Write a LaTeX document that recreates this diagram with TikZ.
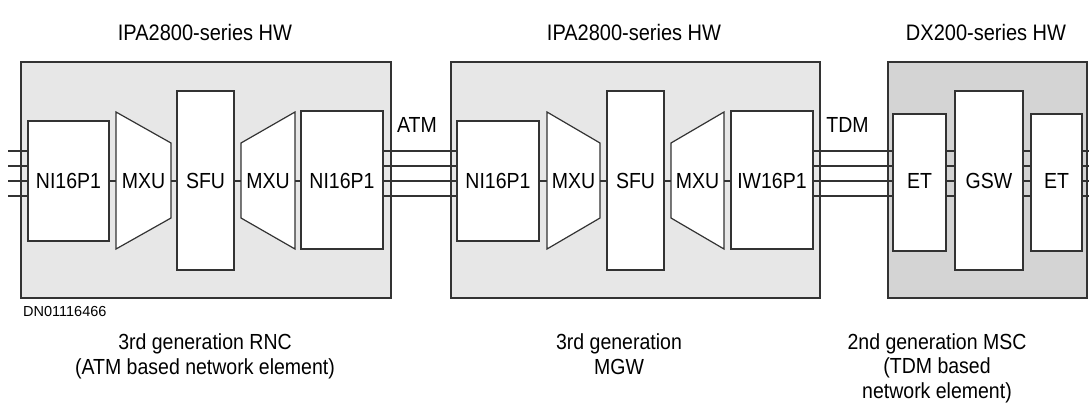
\documentclass[tikz,border=0pt]{standalone}
\usepackage{fontspec}
\setmainfont{Liberation Sans}
\usepackage{graphicx}
\definecolor{grayA}{HTML}{E7E7E7}
\definecolor{grayC}{HTML}{D4D4D4}
\definecolor{edge}{HTML}{333333}
\newcommand{\tall}[1]{\scalebox{1}[1.12]{#1}}
\begin{document}
\begin{tikzpicture}[x=1pt,y=-1pt,
  outer/.style={draw=edge,line width=1.3pt,fill=#1,inner sep=0pt},
  blk/.style={draw=edge,line width=1.2pt,fill=white,inner sep=0pt},
  lbl/.style={inner sep=0pt,font=\fontsize{19.5}{22}\selectfont},
  ttl/.style={inner sep=0pt,font=\fontsize{20}{22}\selectfont},
  small/.style={inner sep=0pt,font=\fontsize{14.5}{17}\selectfont},
  wire/.style={draw=edge,line width=1.3pt},
]
\useasboundingbox (0,0) rectangle (1089,405);

% outer boxes
\node[outer=grayA, minimum width=370pt, minimum height=236pt] (boxA) at (206,180) {};
\node[outer=grayA, minimum width=369pt, minimum height=236pt] (boxB) at (635.5,180) {};
\node[outer=grayC, minimum width=199pt, minimum height=236pt] (boxC) at (987.5,180) {};

% titles
\node[ttl] (tA) at (205,32) {\tall{IPA2800-series HW}};
\node[ttl] (tB) at (634,32) {\tall{IPA2800-series HW}};
\node[ttl] (tC) at (986,32) {\tall{DX200-series HW}};

% ---- element A
\node[blk, minimum width=81pt, minimum height=120pt] (ani1) at (68.5,181) {};
\node[lbl] at (ani1) {\tall{NI16P1}};
\draw[blk] (116,112) -- (171,143) -- (171,218) -- (116,249) -- cycle;
\node[lbl] (am1) at (143.5,181) {\tall{MXU}};
\coordinate (am1w) at (116,181); \coordinate (am1e) at (171,181);
\node[blk, minimum width=57pt, minimum height=179pt] (asfu) at (205.5,180.5) {};
\node[lbl] at (205.5,181) {\tall{SFU}};
\draw[blk] (241,143) -- (295,112) -- (295,249) -- (241,218) -- cycle;
\node[lbl] (am2) at (268,181) {\tall{MXU}};
\coordinate (am2w) at (241,181); \coordinate (am2e) at (295,181);
\node[blk, minimum width=82pt, minimum height=138pt] (ani2) at (342,180) {};
\node[lbl] at (342,181) {\tall{NI16P1}};

% ---- element B
\node[blk, minimum width=82pt, minimum height=120pt] (bni) at (498,181) {};
\node[lbl] at (bni) {\tall{NI16P1}};
\draw[blk] (547,112) -- (600,143) -- (600,218) -- (547,249) -- cycle;
\node[lbl] (bm1) at (573.5,181) {\tall{MXU}};
\coordinate (bm1w) at (547,181); \coordinate (bm1e) at (600,181);
\node[blk, minimum width=57pt, minimum height=179pt] (bsfu) at (635.5,180.5) {};
\node[lbl] at (635.5,181) {\tall{SFU}};
\draw[blk] (671,143) -- (724,112) -- (724,249) -- (671,218) -- cycle;
\node[lbl] (bm2) at (697.5,181) {\tall{MXU}};
\coordinate (bm2w) at (671,181); \coordinate (bm2e) at (724,181);
\node[blk, minimum width=82pt, minimum height=138pt] (biw) at (772,180) {};
\node[lbl] at (772,181) {\tall{IW16P1}};

% ---- element C
\node[blk, minimum width=53pt, minimum height=137pt] (cet1) at (919.5,182.5) {};
\node[lbl] at (919.5,181) {\tall{ET}};
\node[blk, minimum width=68pt, minimum height=179pt] (cgsw) at (989,180.5) {};
\node[lbl] at (989,181) {\tall{GSW}};
\node[blk, minimum width=51pt, minimum height=137pt] (cet2) at (1056.5,182.5) {};
\node[lbl] at (1056.5,181) {\tall{ET}};

% internal connectors
\draw[wire] (ani1.east |- am1w) -- (am1w);
\draw[wire] (am1e) -- (asfu.west |- am1e);
\draw[wire] (asfu.east |- am2w) -- (am2w);
\draw[wire] (am2e) -- (ani2.west |- am2e);
\draw[wire] (bni.east |- bm1w) -- (bm1w);
\draw[wire] (bm1e) -- (bsfu.west |- bm1e);
\draw[wire] (bsfu.east |- bm2w) -- (bm2w);
\draw[wire] (bm2e) -- (biw.west |- bm2e);

% trunk lines
\coordinate (lin) at (8,0);
\coordinate (rout) at (1089,0);
\foreach \yy in {151,166,181,196}{
  \coordinate (L) at (0,\yy);
  \draw[wire] (lin |- L) -- (ani1.west |- L);
  \draw[wire] (ani2.east |- L) -- (bni.west |- L);
  \draw[wire] (biw.east |- L) -- (cet1.west |- L);
  \draw[wire] (cet1.east |- L) -- (cgsw.west |- L);
  \draw[wire] (cgsw.east |- L) -- (cet2.west |- L);
  \draw[wire] (cet2.east |- L) -- (rout |- L);
}

% link labels
\node[lbl] (atm) at (417,125) {\tall{ATM}};
\node[lbl] (tdm) at (847.5,125) {\tall{TDM}};

% bottom texts
\node[small, anchor=west] (dn) at (23,312) {DN01116466};
\node[lbl] (capA) at (205,357) {\tall{\begin{tabular}{@{}c@{}}3rd generation RNC\\(ATM based network element)\end{tabular}}};
\node[lbl] (capB) at (619,357) {\tall{\begin{tabular}{@{}c@{}}3rd generation\\MGW\end{tabular}}};
\node[lbl] (capC) at (937,369) {\tall{\begin{tabular}{@{}c@{}}2nd generation MSC\\(TDM based\\network element)\end{tabular}}};
\end{tikzpicture}
\end{document}
